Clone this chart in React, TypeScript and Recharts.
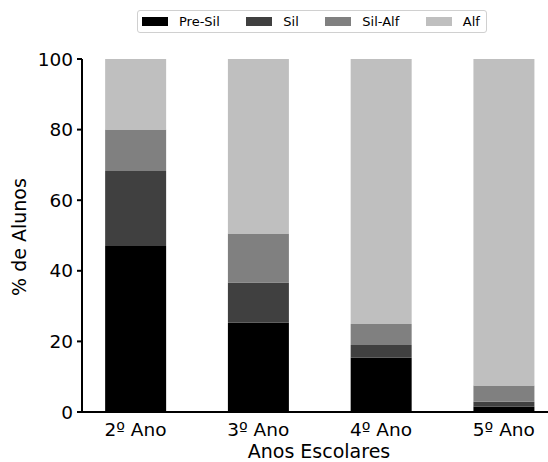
import React from 'react';
import { BarChart, Bar, XAxis, YAxis } from 'recharts';

const categories = ['2º Ano', '3º Ano', '4º Ano', '5º Ano'];
const preSil = [47.0, 25.3, 15.4, 1.5];
const sil = [21.3, 11.4, 3.6, 1.4];
const silAlf = [11.7, 13.9, 5.9, 4.6];
const alf = [20.0, 49.4, 75.1, 92.5];
const yTicks = [0, 20, 40, 60, 80, 100];

const seriesNames = ['Pre-Sil', 'Sil', 'Sil-Alf', 'Alf'];
const seriesKeys = ['preSil', 'sil', 'silAlf', 'alf'];
const seriesColors = ['#000000', '#404040', '#808080', '#bfbfbf'];

const data = categories.map((c, i) => ({
  x: i,
  name: c,
  preSil: preSil[i],
  sil: sil[i],
  silAlf: silAlf[i],
  alf: alf[i],
}));

const FONT = 'DejaVu Sans, sans-serif';

function LegendBox() {
  return (
    <div
      style={{
        position: 'absolute',
        left: 137,
        top: 10,
        width: 350,
        height: 23,
        boxSizing: 'border-box',
        border: '1px solid #d0d0d0',
        borderRadius: 3,
        background: '#fff',
        display: 'flex',
        alignItems: 'center',
        paddingLeft: 4,
        fontFamily: FONT,
        fontSize: 13,
        color: '#000',
        whiteSpace: 'nowrap',
      }}
    >
      {seriesNames.map((n, i) => (
        <div key={n} style={{ display: 'flex', alignItems: 'center', marginRight: 26.5, flexShrink: 0 }}>
          <div style={{ width: 26, height: 9, background: seriesColors[i], marginRight: 11, flexShrink: 0 }} />
          <span style={{ lineHeight: '13px', whiteSpace: 'nowrap' }}>{n}</span>
        </div>
      ))}
    </div>
  );
}

const YLabel = () => (
  <text
    x={19}
    y={237}
    transform="rotate(-90, 19, 237)"
    textAnchor="middle"
    dominantBaseline="central"
    fontFamily={FONT}
    fontSize={19}
    fill="#000"
  >
    % de Alunos
  </text>
);

const XLabel = () => (
  <text x={319} y={458} textAnchor="middle" fontFamily={FONT} fontSize={19} fill="#000">
    Anos Escolares
  </text>
);

export default function App() {
  return (
    <div style={{ position: 'absolute', left: 0, top: 0, width: 548, height: 462, background: '#fff' }}>
      <BarChart
        width={548}
        height={462}
        data={data}
        margin={{ top: 59, right: 0, bottom: 0, left: 0 }}
        barGap={0}
      >
        <XAxis
          dataKey="x"
          type="number"
          domain={[-0.436, 3.36]}
          allowDataOverflow
          ticks={[0, 1, 2, 3]}
          tickFormatter={(v: number) => categories[v]}
          tickLine={false}
          tickSize={0}
          tickMargin={11}
          height={50}
          axisLine={{ stroke: '#000', strokeWidth: 2 }}
          tick={{ fill: '#000', fontSize: 18.5, fontFamily: FONT }}
          label={<XLabel />}
        />
        <YAxis
          width={82}
          domain={[0, 100]}
          ticks={yTicks}
          allowDataOverflow
          tickSize={5}
          tickMargin={4}
          axisLine={{ stroke: '#000', strokeWidth: 2 }}
          tickLine={{ stroke: '#000', strokeWidth: 2 }}
          tick={{ fill: '#000', fontSize: 18.5, fontFamily: FONT }}
          label={<YLabel />}
        />
        {seriesKeys.map((k, i) => (
          <Bar
            key={k}
            dataKey={k}
            stackId="a"
            fill={seriesColors[i]}
            barSize={61}
            isAnimationActive={false}
          />
        ))}
      </BarChart>
      <LegendBox />
    </div>
  );
}
